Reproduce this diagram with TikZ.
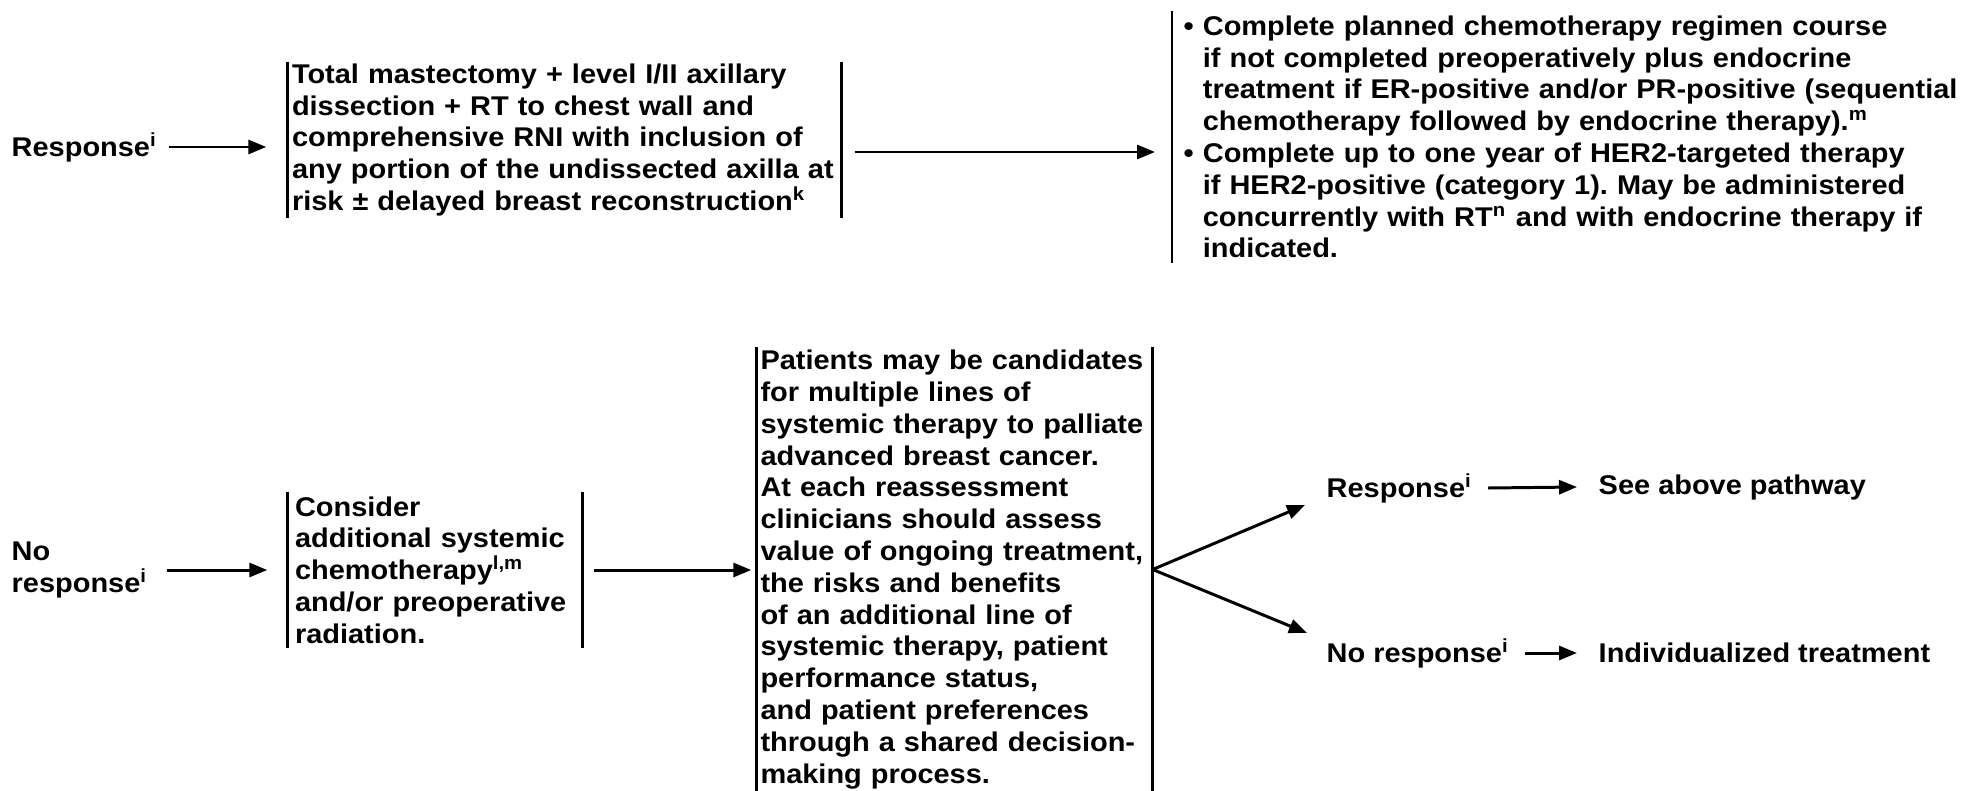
\documentclass[tikz,border=0pt]{standalone}
\usepackage{fontspec}
\setmainfont{Liberation Sans}[FakeStretch=1.07]
\usetikzlibrary{arrows.meta}
\newcommand{\bulletgap}{\hphantom{\textbullet\ }}
\frenchspacing

\begin{document}
\begin{tikzpicture}[font=\bfseries\fontsize{7.7pt}{9.05pt}\selectfont,
  arr/.style={-{Triangle[length=0.18cm,width=0.14cm]},line width=0.85pt},
  bar/.style={line width=0.7pt},
  lbl/.style={anchor=west,inner sep=0pt,align=left},
  col/.style={inner xsep=0.07cm,inner ysep=0pt,align=left}]
\useasboundingbox (0,0) rectangle (19.63,-7.91);

% upper pathway
\node[lbl] (resp1) at (0.11,-1.47) {Response\textsuperscript{i}};
\node[col,inner xsep=0.04cm,text width=5.45cm,minimum height=1.54cm] (box1) at (5.645,-1.40)
  {Total mastectomy + level I/II axillary\\
   dissection + RT to chest wall and\\
   comprehensive RNI with inclusion of\\
   any portion of the undissected axilla at\\
   risk ± delayed breast reconstruction\textsuperscript{k}};
\node[col,anchor=west,inner xsep=0.11cm,text width=7.75cm,minimum height=2.50cm] (list) at (11.72,-1.37)
  {\textbullet\ Complete planned chemotherapy regimen course\\
   \bulletgap if not completed preoperatively plus endocrine\\
   \bulletgap treatment if ER-positive and/or PR-positive (sequential\\
   \bulletgap chemotherapy followed by endocrine therapy).\textsuperscript{m}\\
   \textbullet\ Complete up to one year of HER2-targeted therapy\\
   \bulletgap if HER2-positive (category 1). May be administered\\
   \bulletgap concurrently with RT\textsuperscript{n} and with endocrine therapy if\\
   \bulletgap indicated.};

\draw[bar] (box1.north west) -- (box1.south west) (box1.north east) -- (box1.south east);
\draw[bar] (list.north west) -- (list.south west);
\draw[arr,shorten >=0.21cm] ([xshift=0.11cm]resp1.east) -- (resp1.east -| box1.west);
\draw[arr,shorten >=0.17cm] ([xshift=0.13cm,yshift=-0.12cm]box1.east) -- ([yshift=-0.12cm]box1.east -| list.west);

% lower pathway
\node[lbl] (noresp) at (0.11,-5.70) {No\\response\textsuperscript{i}};
\node[col,text width=2.80cm,minimum height=1.54cm] (box2) at (4.35,-5.70)
  {Consider\\
   additional systemic\\
   chemotherapy\textsuperscript{l,m}\\
   and/or preoperative\\
   radiation.};
\node[col,inner xsep=0.035cm,text width=3.88cm,minimum height=4.43cm] (box3) at (9.545,-5.695)
  {Patients may be candidates\\
   for multiple lines of\\
   systemic therapy to palliate\\
   advanced breast cancer.\\
   At each reassessment\\
   clinicians should assess\\
   value of ongoing treatment,\\
   the risks and benefits\\
   of an additional line of\\
   systemic therapy, patient\\
   performance status,\\
   and patient preferences\\
   through a shared decision-\\
   making process.};
\node[lbl] (resp2) at (13.26,-4.88) {Response\textsuperscript{i}};
\node[lbl] (see) at (15.98,-4.87) {See above pathway};
\node[lbl] (noresp2) at (13.26,-6.53) {No response\textsuperscript{i}};
\node[lbl] (indiv) at (15.98,-6.53) {Individualized treatment};

\draw[bar] (box2.north west) -- (box2.south west) (box2.north east) -- (box2.south east);
\draw[bar] (box3.north west) -- (box3.south west) (box3.north east) -- (box3.south east);
\draw[arr,shorten >=0.20cm] ([xshift=0.18cm]noresp.east) -- (noresp.east -| box2.west);
\draw[arr,shorten >=0.05cm] ([xshift=0.11cm]box2.east) -- (box2.east -| box3.west);
\draw[arr] (box3.east) -- ([xshift=-0.21cm,yshift=-0.17cm]resp2.west);
\draw[arr] (box3.east) -- ([xshift=-0.19cm,yshift=0.20cm]noresp2.west);
\draw[arr] ([xshift=0.15cm]resp2.east) -- ([xshift=-0.21cm]see.west);
\draw[arr] ([xshift=0.15cm]noresp2.east) -- ([xshift=-0.21cm]indiv.west);
\end{tikzpicture}
\end{document}
